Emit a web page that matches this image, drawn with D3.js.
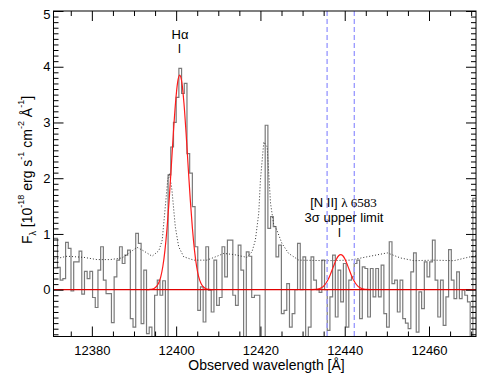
<!DOCTYPE html>
<html>
<head>
<meta charset="utf-8">
<script src="https://cdn.jsdelivr.net/npm/d3@7"></script>
<style>
  body { margin: 0; background: #fff; }
  svg { display: block; }
</style>
</head>
<body>
<div id="chart"></div>
<script>
// observed spectrum, one value per detector pixel (10^-18 erg/s/cm2/A)
var lam0 = 12370.57, binWidth = 0.64;
var flux = [
   0.92,  0.92,  0.40,  0.17,  0.20,  0.85,  0.74, -0.02,  0.50,  0.50,
   0.69, -0.08,  0.33,  0.20,  0.33, -0.14, -0.32,  0.35,  0.77,  0.17,
  -0.07, -0.07, -0.59,  0.23,  0.53,  0.77,  0.47,  0.62,  0.71, -0.52,
  -0.67,  1.01,  0.83, -0.61,  0.35, -0.79, -0.67, -0.90, -0.10,  0.17,
  -0.10,  0.16, -0.90,  2.06,  2.56,  3.00,  3.45,  3.97,  3.52,  3.70,
   2.44,  2.09,  1.49,  0.77, -0.37,  0.05, -0.58,  0.77, -0.01, -0.40,
   0.53, -0.28, -0.14,  0.77,  0.23,  0.89,  0.89, -0.10, -0.28,  0.80,
   0.35, -0.95,  0.68,  0.60, -0.14, -0.10, -0.10, -0.95, -0.95,  2.95,
   1.10,  1.31,  1.13,  0.59,  0.80, -0.43, -0.37,  0.11, -0.67, -0.43,
   0.00,  0.83,  0.00,  0.59, -0.85, -0.67,  0.59,  0.17,  0.00, -0.05,
   0.53,  0.00, -0.73, -0.13,  0.62, -0.49,  0.35, -0.22,  0.47, -0.67,
   0.17,  0.23,  0.47,  0.53, -0.52,  0.41,  0.38, -0.49,  0.38, -0.13,
   0.38, -0.13,  0.44, -0.43, -0.67,  0.86,  0.11,  0.17, -0.40,  0.17,
  -0.52, -0.60, -0.70,  0.32,  0.66, -0.76, -0.04, -0.34,  0.50,  0.23,
   0.50,  0.89,  0.17, -0.49,  0.17, -0.64, -0.13,  0.72,  0.17, -0.16,
   0.32, -0.16, -0.01, -0.10, -0.22, -1.00,  1.64,  1.64
];

// noise spectrum (dotted)
var sigWave = [12371.1, 12374.1, 12378.1, 12381.2, 12384.4, 12387.2, 12388.7, 12390.7,
  12392.2, 12394.3, 12395.9, 12396.7, 12397.5, 12398.0, 12398.4, 12399.0, 12399.8,
  12400.6, 12401.8, 12404.2, 12407.3, 12409.7, 12411.3, 12413.7, 12416.8, 12418.0,
  12418.8, 12419.6, 12420.0, 12420.8, 12421.6, 12422.4, 12423.1, 12423.9, 12425.1,
  12426.7, 12429.1, 12435.8, 12441.3, 12445.3, 12450.1, 12453.2, 12456.4, 12461.1,
  12465.9, 12469.8, 12471.2];
var sigFlux = [0.55, 0.60, 0.58, 0.54, 0.54, 0.57, 0.65, 0.76,
  0.70, 0.60, 0.70, 0.89, 1.55, 1.97, 2.09, 1.79, 1.13,
  0.77, 0.59, 0.53, 0.53, 0.60, 0.65, 0.63, 0.58, 0.68,
  0.89, 1.37, 1.97, 2.65, 2.56, 1.55, 1.19, 1.07, 0.83,
  0.65, 0.53, 0.52, 0.53, 0.59, 0.66, 0.57, 0.52, 0.53,
  0.52, 0.59, 0.61];

// Gaussian fit to H-alpha
var haWave = [12392.85, 12393.85, 12394.35, 12394.85, 12395.35, 12395.85, 12396.35, 12396.85,
  12397.35, 12397.85, 12398.35, 12398.85, 12399.35, 12399.85, 12400.35, 12400.85,
  12401.35, 12401.85, 12402.35, 12402.85, 12403.35, 12403.85, 12404.35, 12404.85,
  12405.35, 12405.85, 12406.35, 12406.85, 12407.35, 12407.85, 12408.85];
var haFit = [0, 0.004, 0.011, 0.026, 0.058, 0.12, 0.23, 0.42,
  0.71, 1.11, 1.62, 2.21, 2.82, 3.35, 3.72, 3.85,
  3.72, 3.35, 2.82, 2.21, 1.62, 1.11, 0.71, 0.42,
  0.23, 0.12, 0.058, 0.026, 0.011, 0.004, 0];

// 3 sigma upper limit profile for [N II] 6583
var n2Wave = [12432.05, 12433.05, 12433.55, 12434.05, 12434.55, 12435.05, 12435.55, 12436.05,
  12436.55, 12437.05, 12437.55, 12438.05, 12438.55, 12439.05, 12439.55, 12440.05,
  12440.55, 12441.05, 12441.55, 12442.05, 12442.55, 12443.05, 12443.55, 12444.05,
  12444.55, 12445.05, 12446.05];
var n2Fit = [0.001, 0.004, 0.0095, 0.020, 0.038, 0.069, 0.115, 0.181,
  0.265, 0.362, 0.461, 0.549, 0.609, 0.63, 0.609, 0.549,
  0.461, 0.362, 0.265, 0.181, 0.115, 0.069, 0.038, 0.020,
  0.0095, 0.004, 0.001];

// integration window (blue dashed)
var windowWave = [12435.82, 12442.28];

var xTicks = [12380, 12400, 12420, 12440, 12460];
var xMinor = [12375, 12385, 12390, 12395, 12405, 12410, 12415, 12425, 12430,
              12435, 12445, 12450, 12455, 12465, 12470];
var yTicks = [0, 1, 2, 3, 4, 5];

var sans = "'Liberation Sans', Arial, Helvetica, sans-serif",
    serif = "'Liberation Serif', 'Times New Roman', serif";

var width = 491, height = 392;
var plot = {left: 53.5, right: 476, top: 11, bottom: 336.5};

var svg = d3.select("#chart").append("svg")
            .attr("width", width)
            .attr("height", height)
            .style("background", "#fff");

var x = d3.scaleLinear().domain([12370.9, 12471.15]).range([plot.left, plot.right]);
var y = d3.scaleLinear().domain([-0.84, 5]).range([plot.bottom, plot.top]);

svg.append("clipPath").attr("id", "clip")
   .append("rect")
   .attr("x", plot.left).attr("y", plot.top)
   .attr("width", plot.right - plot.left)
   .attr("height", plot.bottom - plot.top);

var inner = svg.append("g").attr("clip-path", "url(#clip)");

// histogram of the spectrum
var steps = flux.map(function(v, i) { return [lam0 + i * binWidth, v]; });
steps.push([lam0 + flux.length * binWidth, flux[flux.length - 1]]);

inner.append("path")
     .datum(steps)
     .attr("fill", "none")
     .attr("stroke", "#7a7a7a")
     .attr("stroke-width", 1.2)
     .attr("d", d3.line()
                  .curve(d3.curveStepAfter)
                  .x(function(d) { return x(d[0]); })
                  .y(function(d) { return y(d[1]); }));

// noise
inner.append("path")
     .datum(d3.zip(sigWave, sigFlux))
     .attr("fill", "none")
     .attr("stroke", "#333")
     .attr("stroke-width", 1)
     .attr("stroke-dasharray", "1,2")
     .attr("d", d3.line()
                  .x(function(d) { return x(d[0]); })
                  .y(function(d) { return y(d[1]); }));

// fits
var fitLine = d3.line()
                .curve(d3.curveMonotoneX)
                .x(function(d) { return x(d[0]); })
                .y(function(d) { return y(d[1]); });

[d3.zip(haWave, haFit), d3.zip(n2Wave, n2Fit)].forEach(function(pts) {
    inner.append("path")
         .datum(pts)
         .attr("fill", "none")
         .attr("stroke", "#ff1a1a")
         .attr("stroke-width", 1.2)
         .attr("d", fitLine);
});

// zero level
inner.append("line")
     .attr("x1", plot.left).attr("x2", plot.right)
     .attr("y1", y(0)).attr("y2", y(0))
     .attr("stroke", "#e00000")
     .attr("stroke-width", 1.3);

// window
inner.selectAll(".win")
     .data(windowWave)
     .enter().append("line")
     .attr("class", "win")
     .attr("x1", function(d) { return x(d); })
     .attr("x2", function(d) { return x(d); })
     .attr("y1", plot.top).attr("y2", plot.bottom)
     .attr("stroke", "#9c9cff")
     .attr("stroke-width", 1.4)
     .attr("stroke-dasharray", "5,3");

// axes, ticks inward like IDL
function styleAxis(g, size) {
    g.select(".domain").remove();
    g.attr("font-family", sans).attr("font-size", size || 13);
    g.selectAll("line").attr("stroke", "#000");
    g.selectAll("text").attr("fill", "#000");
}

var yMinor = d3.range(-8, 51).map(function(d) { return d / 10; })
               .filter(function(d) { return yTicks.indexOf(d) < 0; });

var bottomAxis = svg.append("g").attr("transform", "translate(0," + plot.bottom + ")")
    .call(d3.axisBottom(x).tickValues(xTicks).tickSize(-10).tickPadding(9).tickFormat(d3.format("d")));
styleAxis(bottomAxis);
svg.append("g").attr("transform", "translate(0," + plot.bottom + ")")
   .call(d3.axisBottom(x).tickValues(xMinor).tickSize(-5).tickFormat(""))
   .call(styleAxis);

svg.append("g").attr("transform", "translate(0," + plot.top + ")")
   .call(d3.axisTop(x).tickValues(xTicks).tickSize(-10).tickFormat(""))
   .call(styleAxis);
svg.append("g").attr("transform", "translate(0," + plot.top + ")")
   .call(d3.axisTop(x).tickValues(xMinor).tickSize(-5).tickFormat(""))
   .call(styleAxis);

var leftAxis = svg.append("g").attr("transform", "translate(" + plot.left + ",0)")
    .call(d3.axisLeft(y).tickValues(yTicks).tickSize(-10).tickPadding(3).tickFormat(d3.format("d")));
styleAxis(leftAxis);
leftAxis.selectAll("text").filter(function(d) { return d === 5; }).attr("dy", "0.6em");
svg.append("g").attr("transform", "translate(" + plot.left + ",0)")
   .call(d3.axisLeft(y).tickValues(yMinor).tickSize(-5).tickFormat(""))
   .call(styleAxis);

svg.append("g").attr("transform", "translate(" + plot.right + ",0)")
   .call(d3.axisRight(y).tickValues(yTicks).tickSize(-10).tickFormat(""))
   .call(styleAxis);
svg.append("g").attr("transform", "translate(" + plot.right + ",0)")
   .call(d3.axisRight(y).tickValues(yMinor).tickSize(-5).tickFormat(""))
   .call(styleAxis);

svg.append("rect")
   .attr("x", plot.left).attr("y", plot.top)
   .attr("width", plot.right - plot.left)
   .attr("height", plot.bottom - plot.top)
   .attr("fill", "none")
   .attr("stroke", "#000")
   .attr("stroke-width", 1);

// axis titles
svg.append("text")
   .attr("x", 266.5).attr("y", 370)
   .attr("text-anchor", "middle")
   .attr("font-family", sans).attr("font-size", 14)
   .text("Observed wavelength [Å]");

var yTitle = svg.append("text")
   .attr("transform", "translate(31.5,170) rotate(-90)")
   .attr("text-anchor", "middle")
   .attr("font-family", sans).attr("font-size", 14);
var parts = [["F", 0], ["λ", 1], [" [10", 0], ["-18", 2], [" erg s", 0], ["-1", 2],
             [" cm", 0], ["-2", 2], [" Å", 0], ["-1", 2], ["]", 0]];
var shift = 0;
parts.forEach(function(p) {
    var target = p[1] === 1 ? 4 : (p[1] === 2 ? -8 : 0);
    yTitle.append("tspan")
          .attr("dy", target - shift)
          .attr("font-size", p[1] ? 9 : 14)
          .text(p[0]);
    shift = target;
});

// line labels
svg.append("text").attr("x", 180).attr("y", 39.3).attr("text-anchor", "middle")
   .attr("font-family", sans).attr("font-size", 13).text("Hα");
svg.append("text").attr("x", 179.3).attr("y", 53.3).attr("text-anchor", "middle")
   .attr("font-family", sans).attr("font-size", 12).text("I");

var n2Label = svg.append("text").attr("x", 343.5).attr("y", 206.5).attr("text-anchor", "middle")
   .attr("font-size", 13);
n2Label.append("tspan").attr("font-family", sans).text("[N II] ");
n2Label.append("tspan").attr("font-family", serif).text("λ 6583");
svg.append("text").attr("x", 344).attr("y", 222).attr("text-anchor", "middle")
   .attr("font-family", sans).attr("font-size", 13).text("3σ upper limit");
svg.append("text").attr("x", 339.3).attr("y", 236.7).attr("text-anchor", "middle")
   .attr("font-family", sans).attr("font-size", 12).text("I");
</script>
</body>
</html>
